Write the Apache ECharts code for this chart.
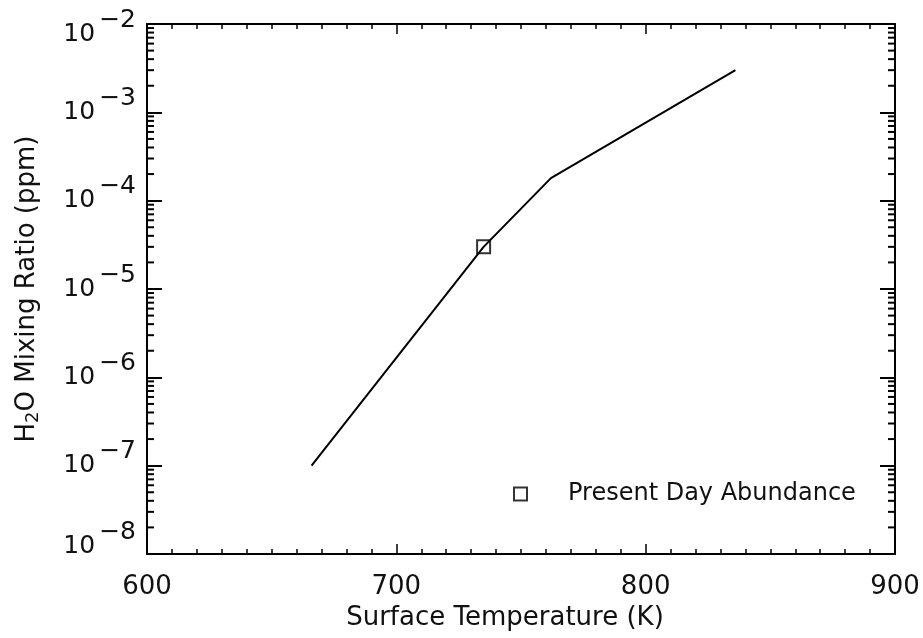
<!DOCTYPE html>
<html><head><meta charset="utf-8">
<script src="https://cdn.jsdelivr.net/npm/echarts@6/dist/echarts.min.js"></script>
<style>html,body{margin:0;padding:0;background:#fff}#c{width:923px;height:638px}</style>
</head><body><div id="c"></div>
<script>
// Data
const temperature = [666, 735, 762, 836];
const mixingRatio = [1.0e-7, 3.0e-5, 1.8e-4, 3.0e-3];
const presentTemp = [735];
const presentMix = [3.0e-5];
const xTickLabels = ['600', '700', '800', '900'];
const yDecades = [-8, -7, -6, -5, -4, -3, -2];
const minorMultipliers = [2, 3, 4, 5, 6, 7, 8, 9];

const minorTickValues = [];
for (let i = 0; i < yDecades.length - 1; i++) {
  for (const m of minorMultipliers) minorTickValues.push([600, m * Math.pow(10, yDecades[i])]);
}

const FONT = 'DejaVu Sans';
const INK = '#000';
const TXT = '#111';

function yLabel(v) {
  const e = Math.round(Math.log10(v));
  let b = 'b', s = 's';
  if (e === yDecades[yDecades.length - 1]) { b = 'bt'; s = 'st'; }
  if (e === yDecades[0]) { b = 'bb'; s = 'sb'; }
  return '{' + b + '|10}{' + s + '|\u2212' + (-e) + '}';
}
const base = { fontFamily: FONT, fontSize: 25, color: TXT, lineHeight: 25 };
const rich = {
  b: Object.assign({}, base, { padding: [14, 4, 14, 0] }),
  s: Object.assign({}, base, { padding: [0, 0, 28, 0] }),
  bt: Object.assign({}, base, { padding: [34, 4, 14, 0] }),
  st: Object.assign({}, base, { padding: [20, 0, 28, 0] }),
  bb: Object.assign({}, base, { padding: [14, 4, 30, 0] }),
  sb: Object.assign({}, base, { padding: [0, 0, 44, 0] })
};

const chart = echarts.init(document.getElementById('c'), null, { renderer: 'canvas' });
chart.setOption({
  animation: false,
  backgroundColor: '#fff',
  grid: { left: 147, top: 24, right: 28, bottom: 84, containLabel: false, outerBoundsMode: 'none' },
  legend: {
    data: [{ name: 'Present Day Abundance', icon: 'rect' }],
    left: 508, top: 477,
    itemWidth: 13, itemHeight: 13,
    selectedMode: false,
    textStyle: { fontFamily: FONT, fontSize: 24, color: TXT, padding: [0, 0, 0, 36] }
  },
  xAxis: [{
    type: 'value', min: 600, max: 900, interval: 100, position: 'bottom',
    name: 'Surface Temperature (K)', nameLocation: 'middle', nameGap: 44,
    nameTextStyle: { fontFamily: FONT, fontSize: 26, color: TXT, padding: [0, 32, 0, 0] },
    axisLine: { show: true, lineStyle: { color: INK, width: 2 } },
    axisTick: { inside: true, length: 10, lineStyle: { color: INK, width: 1.5 } },
    minorTick: { show: true, splitNumber: 10, length: 5, lineStyle: { color: INK, width: 1.5 } },
    axisLabel: { margin: 20, fontFamily: FONT, fontSize: 26, color: TXT,
      formatter: function (v) { return xTickLabels[Math.round((v - 600) / 100)]; } },
    splitLine: { show: false }
  }, {
    type: 'value', min: 600, max: 900, interval: 100, position: 'top',
    axisLine: { show: true, lineStyle: { color: INK, width: 2 } },
    axisTick: { inside: true, length: 10, lineStyle: { color: INK, width: 1.5 } },
    minorTick: { show: true, splitNumber: 10, length: 5, lineStyle: { color: INK, width: 1.5 } },
    axisLabel: { show: false }, splitLine: { show: false }
  }],
  yAxis: [{
    type: 'log', logBase: 10, min: 1e-8, max: 1e-2, position: 'left',
    name: '{n|H}{sub|2}{n|O Mixing Ratio (ppm)}', nameLocation: 'middle', nameGap: 104,
    nameTextStyle: { rich: {
      n: { fontFamily: FONT, fontSize: 26, color: TXT, lineHeight: 32 },
      sub: { fontFamily: FONT, fontSize: 18, color: TXT, lineHeight: 32, padding: [12, 0, 0, 0] }
    } },
    axisLine: { show: true, lineStyle: { color: INK, width: 2 } },
    axisTick: { inside: true, length: 15, lineStyle: { color: INK, width: 2 } },
    axisLabel: { margin: 11, formatter: yLabel, rich: rich },
    splitLine: { show: false }
  }, {
    type: 'log', logBase: 10, min: 1e-8, max: 1e-2, position: 'right',
    axisLine: { show: true, lineStyle: { color: INK, width: 2 } },
    axisTick: { inside: true, length: 15, lineStyle: { color: INK, width: 2 } },
    axisLabel: { show: false }, splitLine: { show: false }
  }],
  series: [{
    type: 'line', name: 'model', xAxisIndex: 0, yAxisIndex: 0,
    data: temperature.map((t, i) => [t, mixingRatio[i]]),
    showSymbol: false, symbol: 'none',
    lineStyle: { color: INK, width: 2 }
  }, {
    type: 'scatter', name: 'Present Day Abundance', xAxisIndex: 0, yAxisIndex: 0,
    data: presentTemp.map((t, i) => [t, presentMix[i]]),
    symbol: 'rect', symbolSize: 13,
    itemStyle: { color: 'rgba(255,255,255,0)', borderColor: INK, borderWidth: 2 }
  }, {
    type: 'custom', name: 'minorTicks', xAxisIndex: 0, yAxisIndex: 0,
    data: minorTickValues, silent: true, clip: false,
    renderItem: function (params, api) {
      const left = api.coord([600, api.value(1)]);
      const right = api.coord([900, api.value(1)]);
      return { type: 'group', children: [
        { type: 'line', shape: { x1: left[0], y1: left[1], x2: left[0] + 7, y2: left[1] }, style: { stroke: INK, lineWidth: 2 } },
        { type: 'line', shape: { x1: right[0], y1: right[1], x2: right[0] - 7, y2: right[1] }, style: { stroke: INK, lineWidth: 2 } }
      ] };
    }
  }]
});
</script></body></html>
